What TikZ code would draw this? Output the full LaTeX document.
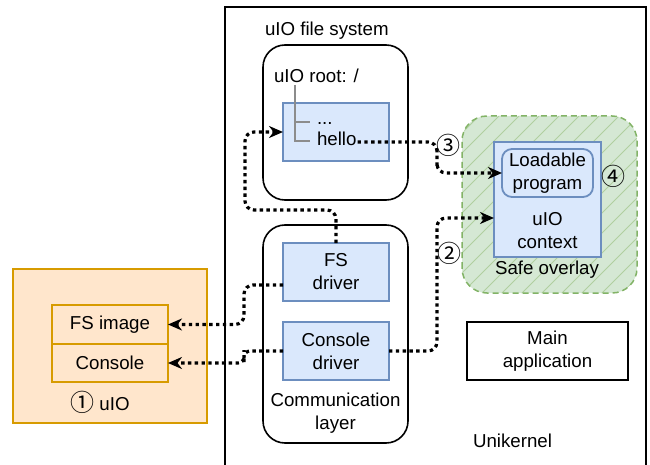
\documentclass[tikz,border=0pt]{standalone}
\usepackage{fontspec}
\setmainfont{Liberation Sans}
\newfontfamily\symfont{Noto Sans CJK SC}
\usetikzlibrary{arrows.meta,calc}
\definecolor{bfill}{HTML}{DAE8FC}
\definecolor{bline}{HTML}{6C8EBF}
\definecolor{ofill}{HTML}{FFE6CC}
\definecolor{oline}{HTML}{D79B00}
\definecolor{gfill}{HTML}{D5E8D4}
\definecolor{gline}{HTML}{82B366}
\definecolor{ghatch}{HTML}{B0CFA0}
\definecolor{treegray}{HTML}{8C8C8C}
\begin{document}
\begin{tikzpicture}[x=1pt,y=-1pt,
  every node/.style={font=\fontsize{18.7}{23}\selectfont, inner sep=0pt, outer sep=0pt},
  bluebox/.style={draw=bline, fill=bfill, line width=1.8},
  rbox/.style={draw=black, line width=1.6, rounded corners=22},
  obox/.style={draw=oline, fill=ofill, line width=1.8},
  numtxt/.style={font=\symfont\fontsize{24}{26}\selectfont},
  conn/.style={line width=3.2, dash pattern=on 3.4 off 3.4, rounded corners=9,
    -{Stealth[length=14,width=12,inset=4.5]}}]
\useasboundingbox (0,0) rectangle (650,465);
% Unikernel
\node[draw, line width=2, minimum width=421, minimum height=490, anchor=north west] (uni) at (225,7) {};
\node[anchor=base west] (unit) at (473,447) {Unikernel};
% file system
\node[anchor=base west] (fst) at (265,36) {uIO file system};
\node[rbox, minimum width=145, minimum height=155] (fsys) at (335.5,122.5) {};
\node[anchor=base west] (roott) at (274,83) {uIO root: /};
\node[bluebox, minimum width=106, minimum height=58] (root) at (336,132) {};
\draw[treegray, line width=1.5] (295,85) -- (295,141) -- (310,141);
\draw[treegray, line width=1.5] (295,122) -- (310,122);
\node[anchor=base west] (dots) at (317,125) {...};
\node[anchor=base west] (hello) at (317,146) {hello};
% communication layer
\node[rbox, minimum width=145, minimum height=218] (comm) at (335.5,334) {};
\node[bluebox, minimum width=106, minimum height=58, align=center] (fsdrv) at (336,272) {FS\\driver};
\node[bluebox, minimum width=106, minimum height=58, align=center] (condrv) at (336,351) {Console\\driver};
\node[align=center] (commt) at (335.5,413) {Communication\\layer};
% safe overlay
\node[fill=gfill, rounded corners=25, minimum width=175, minimum height=177] (ovl) at (549.5,204.5) {};
\begin{scope}
  \clip[rounded corners=25] (ovl.south west) rectangle (ovl.north east);
  \foreach \k in {0,...,18} \draw[ghatch, line width=1] (275+\k*20,300) -- ++(200,-200);
\end{scope}
\draw[gline, line width=1.5, dash pattern=on 6 off 4, rounded corners=25] (ovl.south west) rectangle (ovl.north east);
\node[bluebox, minimum width=107, minimum height=115] (ctx) at (547.5,199.5) {};
\node[bluebox, rounded corners=10, minimum width=91, minimum height=48, align=center] (load) at (547.5,173) {Loadable\\program};
\node[align=center] (ctxt) at (547.5,231) {uIO\\context};
\node (ovlt) at (547,270) {Safe overlay};
\node[numtxt] (n4) at (613,176) {④};
\node[numtxt] (n3) at (448,145) {③};
\node[numtxt] (n2) at (449,253) {②};
% main application
\node[draw, line width=1.6, fill=white, minimum width=161, minimum height=58, align=center] (mainapp) at (547.5,351) {Main\\application};
% uIO
\node[obox, minimum width=194, minimum height=154] (uio) at (110,346) {};
\node[obox, minimum width=116, minimum height=39] (fsimg) at (110,324.5) {FS image};
\node[obox, minimum width=116, minimum height=38] (cons) at (110,363) {Console};
\node[anchor=base] (uiot) at (100,410) {{\symfont\fontsize{24}{26}\selectfont\raisebox{-1pt}{①}}\hspace{5pt}uIO};
% connectors
\coordinate (w1) at (245,210);
\draw[conn] (fsdrv.north) |- (w1) |- (root.west);
\coordinate (hs) at ($(hello.base east)+(1,-4)$);
\coordinate (w2) at (437,157);
\draw[conn] (hs) -| (w2) |- (load.west);
\coordinate (ctxin) at ($(ctx.north west)+(0,76)$);
\coordinate (w3) at (437,300);
\draw[conn] (condrv.east) -| (w3) |- (ctxin);
\coordinate (fsout) at ($(fsdrv.south west)+(0,-16)$);
\coordinate (w4) at (244,305);
\draw[conn] (fsout) -| (w4) |- (fsimg.east);
\coordinate (w5) at (244,356);
\draw[conn, rounded corners=6] (condrv.west) -| (w5) |- (cons.east);
\end{tikzpicture}
\end{document}
